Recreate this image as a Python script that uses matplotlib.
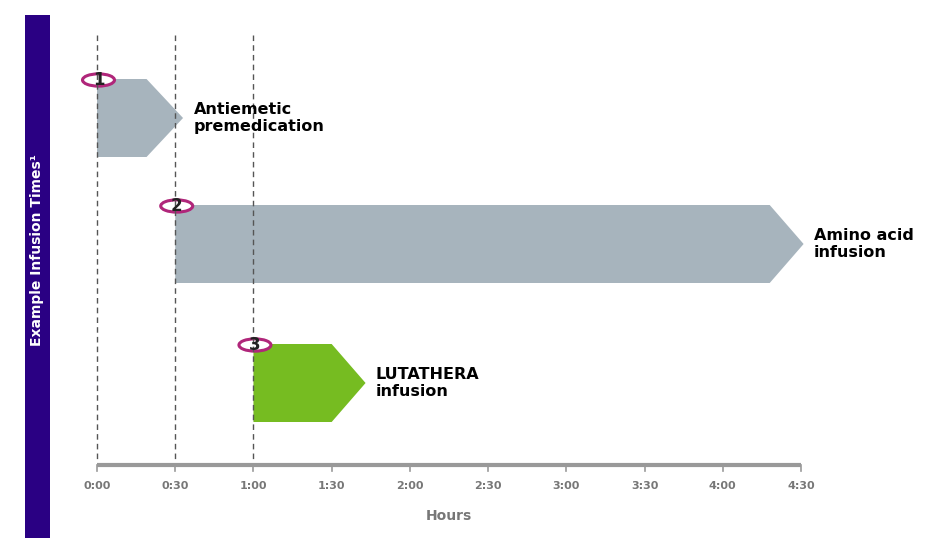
import matplotlib.pyplot as plt
from matplotlib.patches import Polygon, Circle, Rectangle

# Infusion steps: start, end of body, arrow tip (minutes)
steps = ["1", "2", "3"]
starts = [0, 30, 60]
body_ends = [19, 258, 90]
tips = [33, 271, 103]
labels = ["Antiemetic\npremedication", "Amino acid\ninfusion", "LUTATHERA\ninfusion"]
colors = ["#a7b4bd", "#a7b4bd", "#76bc21"]
rows_y = [118, 244, 383]  # vertical centre of each bar (pixel rows)

tick_minutes = list(range(0, 271, 30))
tick_labels = ["0:00", "0:30", "1:00", "1:30", "2:00", "2:30", "3:00", "3:30", "4:00", "4:30"]
guide_minutes = [0, 30, 60]

W, H = 927, 558
px_per_min = (801 - 97) / 270
fig = plt.figure(figsize=(W / 100, H / 100), dpi=100)
ax = fig.add_axes([0, 0, 1, 1])
ax.set_xlim(-97 / px_per_min, (W - 97) / px_per_min)
ax.set_ylim(H, 0)
ax.axis("off")

dx = 1 / px_per_min  # one pixel in minutes

# left purple band
ax.add_patch(Rectangle((-72 * dx, 15), 25 * dx, 523, color="#2a0083", lw=0))
ax.text(-59.5 * dx, 250, "Example Infusion Times¹", rotation=90, color="white",
        fontsize=10, fontweight="bold", ha="center", va="center")

# guide lines
for m in guide_minutes:
    ax.plot([m, m], [35, 462], ls=(0, (4, 3)), color="#555555", lw=1)

# bars
half = 39
for s, b, t, y, c, lab, n in zip(starts, body_ends, tips, rows_y, colors, labels, steps):
    ax.add_patch(Polygon([(s, y - half), (b, y - half), (t, y), (b, y + half), (s, y + half)],
                         closed=True, color=c, lw=0))
    ax.text(t + 4, y, lab, fontsize=11.5, fontweight="bold", va="center", ha="left", color="black")
    cy = y - half + 1
    ax.add_patch(Circle((s + 1.5 * dx, cy), 16 * dx, facecolor="white", edgecolor="#b0267a", lw=2.2,
                        transform=ax.transData))
    ax.text(s + 1.5 * dx, cy, n, fontsize=12, fontweight="bold", ha="center", va="center",
            color="#222222")

# axis
ax.plot([0, 270], [465, 465], color="#999999", lw=3, solid_capstyle="butt")
for m, lab in zip(tick_minutes, tick_labels):
    ax.plot([m, m], [465, 471], color="#999999", lw=1.2)
    ax.text(m, 486, lab, fontsize=8, fontweight="bold", color="#777777", ha="center", va="center")
ax.text(135, 516, "Hours", fontsize=10, fontweight="bold", color="#777777", ha="center", va="center")

fig.savefig("out.png", dpi=100)
